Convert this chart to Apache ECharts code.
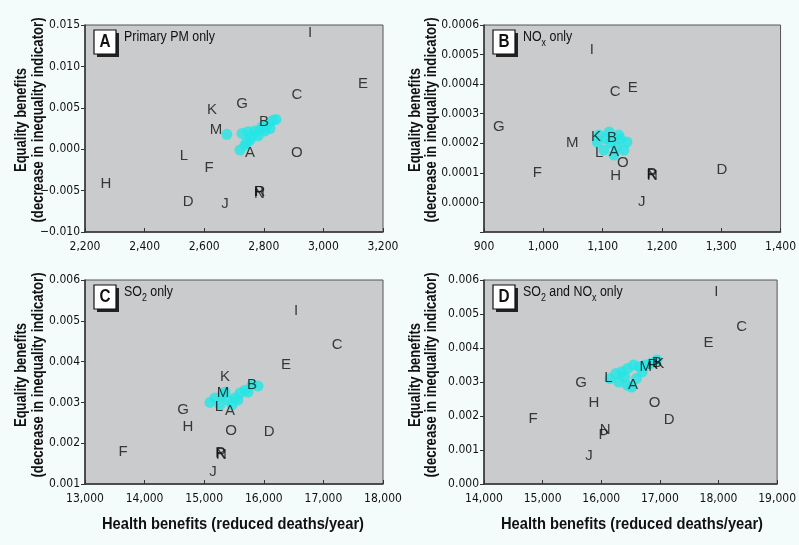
<!DOCTYPE html>
<html><head><meta charset="utf-8">
<script src="https://cdn.jsdelivr.net/npm/echarts@6/dist/echarts.min.js"></script>
<style>html,body{margin:0;padding:0;background:#f4fbfb;}#c{width:799px;height:545px;}</style>
</head><body><div id="c"></div>
<script>
// ---------- Panel A: Primary PM only ----------
const lettersA = ['I','E','C','G','K','B','M','A','O','L','F','H','P','N','R','D','J'];
const xA = [2955,3133,2911,2727,2626,2801,2640,2754,2911,2532,2616,2270,2783,2785,2787,2546,2670];
const yA = [0.0140,0.0079,0.0066,0.0055,0.0048,0.0033,0.0023,-0.0004,-0.0004,-0.0008,-0.0022,-0.0042,-0.0051,-0.0054,-0.0052,-0.0063,-0.0066];
const cloudAx = [2676,2720,2737,2754,2727,2747,2770,2787,2804,2821,2794,2814,2831,2841,2781,2760,2742];
const cloudAy = [0.0018,-0.0001,0.0005,0.0011,0.0019,0.0021,0.0022,0.0023,0.0022,0.0025,0.0027,0.0030,0.0035,0.0036,0.0016,0.0016,0.0008];
// ---------- Panel B: NOx only ----------
const lettersB = ['I','C','E','G','M','K','B','L','A','O','F','H','P','N','R','D','J'];
const xB = [1082,1121,1151,925,1049,1089,1116,1094,1119,1134,990,1122,1183,1184,1183,1301,1166];
const yB = [0.000515,0.000373,0.000387,0.000255,0.000201,0.000221,0.000218,0.000167,0.000170,0.000133,0.000100,0.000090,0.000095,0.000089,0.000093,0.000110,0.000002];
const cloudBx = [1094,1111,1127,1141,1136,1119,1102,1091,1114,1124,1106,1130];
const cloudBy = [0.000228,0.000238,0.000228,0.000204,0.000177,0.000160,0.000177,0.000204,0.000201,0.000187,0.000215,0.000215];
// ---------- Panel C: SO2 only ----------
const lettersC = ['I','C','E','K','B','M','L','A','G','H','O','D','F','P','N','R','J'];
const xC = [16540,17229,16373,15349,15802,15316,15249,15433,14644,14728,15450,16088,13638,15270,15290,15282,15148];
const yC = [0.00524,0.00441,0.00392,0.00362,0.00343,0.00323,0.00289,0.00279,0.00281,0.00240,0.00230,0.00227,0.00178,0.00176,0.00172,0.00174,0.00130];
const cloudCx = [15097,15181,15299,15400,15517,15601,15685,15802,15903,15265,15467,15735,15567,15350];
const cloudCy = [0.00300,0.00311,0.00318,0.00306,0.00311,0.00323,0.00330,0.00343,0.00340,0.00294,0.00294,0.00325,0.00306,0.00325];
// ---------- Panel D: SO2 and NOx only ----------
const lettersD = ['I','C','E','M','R','B','K','L','A','G','H','O','D','F','N','P','J'];
const xD = [17963,18397,17829,16760,16880,16950,16990,16123,16541,15655,15873,16909,17160,14836,16065,16040,15789];
const yD = [0.00565,0.00462,0.00415,0.00345,0.00350,0.00355,0.00354,0.00312,0.00291,0.00297,0.00238,0.00238,0.00188,0.00191,0.00160,0.00145,0.00082];
const cloudDx = [16150,16250,16350,16450,16550,16650,16750,16850,16950,16300,16450,16600,16400,16700,16520];
const cloudDy = [0.00310,0.00325,0.00330,0.00340,0.00350,0.00345,0.00350,0.00355,0.00365,0.00300,0.00290,0.00310,0.00315,0.00330,0.00285];

const xTickA = {min:2200,max:3200,interval:200};
const xTickB = {min:900,max:1400,interval:100};
const xTickC = {min:13000,max:18000,interval:1000};
const xTickD = {min:14000,max:19000,interval:1000};
const yTickA = {min:-0.010,max:0.015,interval:0.005,dec:3};
const yTickB = {min:-0.0001,max:0.0006,interval:0.0001,dec:4};
const yTickC = {min:0.001,max:0.006,interval:0.001,dec:3};
const yTickD = {min:0.000,max:0.006,interval:0.001,dec:3};

const yName1 = 'Equality benefits';
const yName2 = '(decrease in inequality indicator)';
const xName = 'Health benefits (reduced deaths/year)';

// ---- font detection ----
const ctx = document.createElement('canvas').getContext('2d');
function hasFont(name){
  const t = 'mmmmmmmmmmlliWW0123abc';
  for (const base of ['monospace','serif']) {
    ctx.font = '20px ' + base; const w1 = ctx.measureText(t).width;
    ctx.font = '20px "' + name + '", ' + base; const w2 = ctx.measureText(t).width;
    if (Math.abs(w1 - w2) > 0.1) return true;
  }
  return false;
}
const narrowCands = ['Liberation Sans Narrow','DejaVu Sans Condensed','Roboto Condensed'];
const NARROWNAME = narrowCands.find(hasFont);
const SANS = hasFont('Liberation Sans') ? "'Liberation Sans'" : (hasFont('Arimo') ? 'Arimo' : 'sans-serif');
const TICKFONT = NARROWNAME ? "'" + NARROWNAME + "'" : SANS;
const TICKSIZE = 12;
function measure(text, font){ ctx.font = font; return ctx.measureText(text).width; }
function scaleFor(text, weight, size, target){
  return target / measure(text, weight + ' ' + size + 'px ' + SANS);
}

const grids = [
  {left:85, top:25, width:298, height:207},
  {left:484, top:25, width:299, height:207},
  {left:85, top:280, width:298, height:204},
  {left:484, top:280, width:299, height:204}
].map(g => Object.assign(g, {show:true, backgroundColor:'#c9cbcc', borderColor:'#555', borderWidth:1}));

function yFmt(dec){
  return v => {
    if (v < -1e-9 && dec === 4) return '';
    let s = v.toFixed(dec);
    if (/^-0\.0+$/.test(s)) s = s.slice(1);
    if (s[0] === '-') s = '\u2212' + s.slice(1);
    return s;
  };
}
function xAxis(t, idx){
  return {type:'value', gridIndex:idx, min:t.min, max:t.max, interval:t.interval,
    axisLine:{show:true, onZero:false, lineStyle:{color:'#333', width:1.5}},
    axisTick:{show:true, inside:true, length:4, lineStyle:{color:'#333'}},
    splitLine:{show:false},
    axisLabel:{fontFamily:TICKFONT, fontSize:TICKSIZE, color:'#111', margin:9,
      formatter: v => Math.round(v).toLocaleString('en-US')}};
}
function yAxis(t, idx){
  return {type:'value', gridIndex:idx, min:t.min, max:t.max, interval:t.interval,
    axisLine:{show:true, onZero:false, lineStyle:{color:'#333', width:1.5}},
    axisTick:{show:true, length:4, lineStyle:{color:'#333'}},
    splitLine:{show:false},
    axisLabel:{fontFamily:TICKFONT, fontSize:TICKSIZE, color:'#111', margin:5, formatter:yFmt(t.dec)}};
}
function cloud(xs, ys, idx){
  return {type:'scatter', xAxisIndex:idx, yAxisIndex:idx, symbolSize:11, z:2,
    itemStyle:{color:'#24e6e6'}, silent:true,
    data: xs.map((x,i)=>[x, ys[i]])};
}
function letters(ls, xs, ys, idx){
  return {type:'scatter', xAxisIndex:idx, yAxisIndex:idx, symbolSize:1, z:3,
    itemStyle:{color:'rgba(0,0,0,0)'},
    label:{show:true, position:'inside', formatter:p=>p.name,
      fontFamily:SANS, fontSize:15, color:'#111'},
    data: ls.map((l,i)=>({name:l, value:[xs[i], ys[i]]}))};
}
const capScale = scaleFor('Primary PM only', 'normal', 14, 91);
function panelLabel(letter, x, y, text){
  return {type:'group', x:x, y:y, children:[
    {type:'rect', shape:{x:3, y:3, width:22, height:24}, style:{fill:'#222'}},
    {type:'rect', shape:{x:0, y:0, width:22, height:24}, style:{fill:'#fff', stroke:'#111', lineWidth:1.2}},
    {type:'text', x:11, y:12.5, scaleX:0.85, style:{text:letter, fontFamily:SANS, fontWeight:'bold', fontSize:18, fill:'#111', align:'center', verticalAlign:'middle'}},
    {type:'text', x:30, y:0, scaleX:capScale, style:{text:text, fontFamily:SANS, fontSize:14, fill:'#111',
      rich:{n:{fontFamily:SANS, fontSize:14, fill:'#111', lineHeight:18, verticalAlign:'top'},
            s:{fontFamily:SANS, fontSize:10, fill:'#111', lineHeight:10, verticalAlign:'bottom', padding:[8,0,0,0]}}}}
  ]};
}
const yn1Scale = scaleFor(yName1, 'bold', 16, 104);
const yn2Scale = scaleFor(yName2, 'bold', 16, 205);
const xnScale = scaleFor(xName, 'bold', 16, 262);
function vText(text, x, y, sc){
  return {type:'text', x:x, y:y, rotation:Math.PI/2, scaleX:sc,
    style:{text:text, fontFamily:SANS, fontWeight:'bold', fontSize:16, fill:'#111', align:'center', verticalAlign:'middle'}};
}
function hText(text, x, y, sc){
  return {type:'text', x:x, y:y, scaleX:sc,
    style:{text:text, fontFamily:SANS, fontWeight:'bold', fontSize:16, fill:'#111', align:'center', verticalAlign:'middle'}};
}

const chart = echarts.init(document.getElementById('c'));
chart.setOption({
  backgroundColor:'#f4fbfb',
  animation:false,
  grid: grids,
  xAxis:[xAxis(xTickA,0), xAxis(xTickB,1), xAxis(xTickC,2), xAxis(xTickD,3)],
  yAxis:[yAxis(yTickA,0), yAxis(yTickB,1), yAxis(yTickC,2), yAxis(yTickD,3)],
  series:[
    cloud(cloudAx,cloudAy,0), letters(lettersA,xA,yA,0),
    cloud(cloudBx,cloudBy,1), letters(lettersB,xB,yB,1),
    cloud(cloudCx,cloudCy,2), letters(lettersC,xC,yC,2),
    cloud(cloudDx,cloudDy,3), letters(lettersD,xD,yD,3)
  ],
  graphic:[
    panelLabel('A', 94, 30, '{n|Primary PM only}'),
    panelLabel('B', 493, 30, '{n|NO}{s|x}{n| only}'),
    panelLabel('C', 94, 285, '{n|SO}{s|2}{n| only}'),
    panelLabel('D', 493, 285, '{n|SO}{s|2}{n| and NO}{s|x}{n| only}'),
    vText(yName1, 22, 120, yn1Scale), vText(yName2, 39, 120, yn2Scale),
    vText(yName1, 416, 120, yn1Scale), vText(yName2, 432, 120, yn2Scale),
    vText(yName1, 22, 375, yn1Scale), vText(yName2, 39, 375, yn2Scale),
    vText(yName1, 416, 375, yn1Scale), vText(yName2, 432, 375, yn2Scale),
    hText(xName, 233, 525, xnScale), hText(xName, 632, 525, xnScale)
  ]
});
</script></body></html>
